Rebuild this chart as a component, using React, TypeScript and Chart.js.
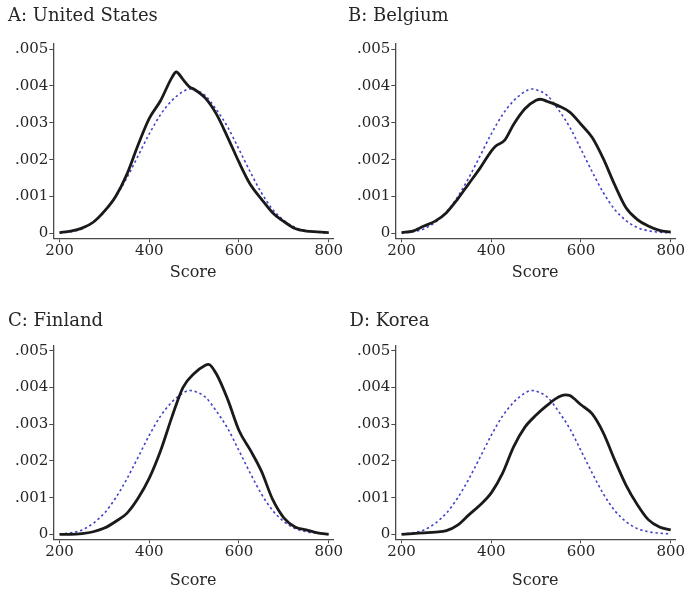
import React, { useEffect, useRef } from 'react';
import { Chart, registerables } from 'chart.js';

Chart.register(...registerables);

// ---- data ----
const SCORE_TICKS = [200, 400, 600, 800];
const DENSITY_TICKS = [0, 0.001, 0.002, 0.003, 0.004, 0.005];
const DENSITY_LABELS = ['0', '.001', '.002', '.003', '.004', '.005'];
const X_TITLE = 'Score';

// reference (dashed) curve, same in every panel
const REF_X = [200, 225, 250, 275, 300, 325, 350, 375, 400, 425, 450, 475, 490, 500, 525, 550, 575, 600, 625, 650, 675, 700, 725, 750, 775, 800];
const REF_Y = [0.00001, 0.00004, 0.00012, 0.0003, 0.00058, 0.00099, 0.00151, 0.0021, 0.0027, 0.00322, 0.0036, 0.00385, 0.00392, 0.0039, 0.00374, 0.00335, 0.00288, 0.00228, 0.00167, 0.0011, 0.00065, 0.00035, 0.00016, 0.00007, 0.00003, 0.00001];

const US_X = [200, 225, 250, 275, 300, 325, 350, 375, 400, 425, 450, 460, 475, 490, 500, 525, 550, 575, 600, 625, 650, 675, 700, 725, 750, 775, 800];
const US_Y = [0.00002, 0.00006, 0.00014, 0.0003, 0.0006, 0.001, 0.0016, 0.0024, 0.00312, 0.0036, 0.00422, 0.00438, 0.00418, 0.00397, 0.00391, 0.00367, 0.00323, 0.0026, 0.00193, 0.00133, 0.00093, 0.00056, 0.00032, 0.00013, 0.00006, 0.00004, 0.00002];

const BE_X = [200, 225, 250, 275, 300, 325, 350, 375, 400, 410, 430, 450, 475, 500, 510, 525, 550, 575, 600, 625, 650, 675, 700, 725, 750, 775, 800];
const BE_Y = [0.00002, 0.00006, 0.0002, 0.00033, 0.00056, 0.00093, 0.00135, 0.00177, 0.00223, 0.00237, 0.00253, 0.00296, 0.00338, 0.00361, 0.00364, 0.00358, 0.00346, 0.00329, 0.00296, 0.0026, 0.00202, 0.00132, 0.0007, 0.00038, 0.0002, 0.00008, 0.00003];

const FI_X = [200, 225, 250, 275, 300, 325, 350, 375, 400, 425, 450, 475, 500, 525, 532, 550, 575, 600, 625, 650, 675, 700, 725, 750, 775, 800];
const FI_Y = [0, 0, 0.00002, 0.00007, 0.00017, 0.00035, 0.00057, 0.00098, 0.00153, 0.00227, 0.00318, 0.004, 0.00438, 0.00461, 0.00463, 0.00436, 0.00367, 0.00283, 0.0023, 0.00172, 0.00095, 0.00045, 0.0002, 0.00012, 0.00004, 0];

const KR_X = [200, 225, 250, 275, 300, 325, 350, 375, 400, 425, 450, 475, 500, 525, 550, 565, 575, 600, 625, 650, 675, 700, 725, 750, 775, 800];
const KR_Y = [0, 0.00002, 0.00004, 0.00006, 0.0001, 0.00025, 0.00053, 0.0008, 0.00113, 0.00166, 0.00239, 0.00292, 0.00325, 0.00352, 0.00374, 0.0038, 0.00378, 0.00353, 0.00328, 0.00276, 0.00203, 0.00135, 0.00082, 0.0004, 0.0002, 0.00012];

const PANELS = [
  { title: 'A: United States', xs: US_X, ys: US_Y, left: 0, top: 0, w: 343, h: 295, titleLeft: 8, titleCenter: 16, areaTop: 44, areaBottom: 238.3, scoreCenter: 272.5 },
  { title: 'B: Belgium', xs: BE_X, ys: BE_Y, left: 342, top: 0, w: 344, h: 295, titleLeft: 6, titleCenter: 16, areaTop: 44, areaBottom: 238.3, scoreCenter: 272.5 },
  { title: 'C: Finland', xs: FI_X, ys: FI_Y, left: 0, top: 295, w: 343, h: 296, titleLeft: 8, titleCenter: 26.7, areaTop: 50.7, areaBottom: 244.3, scoreCenter: 286 },
  { title: 'D: Korea', xs: KR_X, ys: KR_Y, left: 342, top: 295, w: 344, h: 296, titleLeft: 7.5, titleCenter: 26.7, areaTop: 50.7, areaBottom: 244.3, scoreCenter: 286 },
];

const FONT = "'DejaVu Serif', serif";
const AXIS_COLOR = '#4a4a4a';
const TEXT_COLOR = '#262626';
const TITLE_SIZE = 18;
const TICK_SIZE = 15;
const XTITLE_SIZE = 16;
const AREA_LEFT = 53.3;
const AREA_RIGHT = 333;

function Panel({ p }: { p: any }) {
  const ref = useRef<HTMLCanvasElement | null>(null);
  useEffect(() => {
    if (!ref.current) return;
    const titleLH = TITLE_SIZE * 1.2;
    const tPadTop = p.titleCenter - titleLH / 2;
    const tPadBottom = p.areaTop - tPadTop - titleLH;
    const xLH = XTITLE_SIZE * 1.2;
    const xHeight = p.scoreCenter + xLH / 2 - p.areaBottom;
    const padBottom = p.h - p.areaBottom - xHeight;
    const chart = new Chart(ref.current, {
      type: 'line',
      data: {
        datasets: [
          {
            data: p.xs.map((x: number, i: number) => ({ x, y: p.ys[i] })),
            borderColor: '#1a1a1a',
            borderWidth: 2.8,
            pointRadius: 0,
            cubicInterpolationMode: 'monotone',
            fill: false,
          },
          {
            data: REF_X.map((x, i) => ({ x, y: REF_Y[i] })),
            borderColor: '#4040c8',
            borderWidth: 1.6,
            borderDash: [2.4, 2.8],
            pointRadius: 0,
            cubicInterpolationMode: 'monotone',
            fill: false,
          },
        ],
      },
      options: {
        animation: false,
        responsive: false,
        devicePixelRatio: 1,
        layout: { padding: { left: p.titleLeft, top: 0, right: p.w - AREA_RIGHT, bottom: padBottom } },
        plugins: {
          legend: { display: false },
          tooltip: { enabled: false },
          title: {
            display: true,
            text: p.title,
            align: 'start',
            color: TEXT_COLOR,
            font: { family: FONT, size: TITLE_SIZE, weight: 'normal' },
            padding: { top: tPadTop, bottom: tPadBottom },
          },
        },
        scales: {
          x: {
            type: 'linear',
            min: 186,
            max: 809.6,
            border: { display: true, color: AXIS_COLOR, width: 1.3 },
            grid: { display: true, drawOnChartArea: false, drawTicks: true, tickLength: 4, color: AXIS_COLOR, lineWidth: 1 },
            ticks: { color: TEXT_COLOR, font: { family: FONT, size: TICK_SIZE }, padding: 0, maxRotation: 0, autoSkip: false },
            title: { display: true, text: X_TITLE, color: TEXT_COLOR, font: { family: FONT, size: XTITLE_SIZE }, padding: 0 },
            afterBuildTicks: (s: any) => { s.ticks = SCORE_TICKS.map((v) => ({ value: v })); },
            afterFit: (s: any) => { s.height = xHeight; s.paddingLeft = 0; s.paddingRight = 0; },
          },
          y: {
            type: 'linear',
            min: -0.000136,
            max: 0.00514,
            border: { display: true, color: AXIS_COLOR, width: 1.3 },
            grid: { display: true, drawOnChartArea: false, drawTicks: true, tickLength: 4, color: AXIS_COLOR, lineWidth: 1 },
            ticks: {
              color: TEXT_COLOR,
              font: { family: FONT, size: TICK_SIZE },
              padding: 1,
              autoSkip: false,
              callback: (_v: any, i: number) => DENSITY_LABELS[i],
            },
            afterBuildTicks: (s: any) => { s.ticks = DENSITY_TICKS.map((v) => ({ value: v })); },
            afterFit: (s: any) => { s.width = AREA_LEFT - p.titleLeft; s.paddingTop = 0; s.paddingBottom = 0; },
          },
        },
      } as any,
    });
    return () => chart.destroy();
  }, [p]);
  return (
    <canvas
      ref={ref}
      width={p.w}
      height={p.h}
      style={{ position: 'absolute', left: p.left, top: p.top, width: p.w, height: p.h }}
    />
  );
}

export default function App() {
  return (
    <div style={{ position: 'absolute', left: 0, top: 0, width: 686, height: 591, background: '#fff' }}>
      {PANELS.map((p) => (
        <Panel key={p.title} p={p} />
      ))}
    </div>
  );
}
